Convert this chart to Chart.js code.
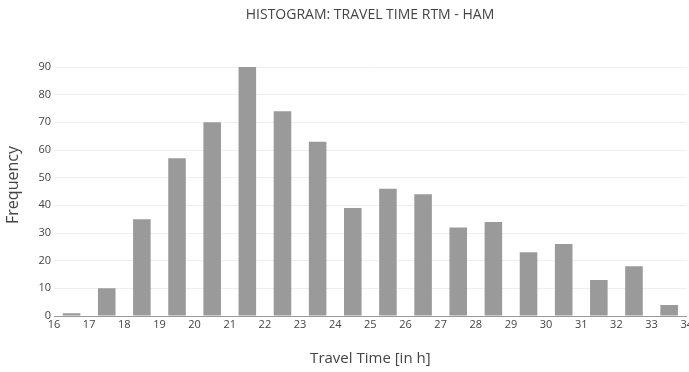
<!DOCTYPE html>
<html>
<head>
<meta charset="utf-8">
<script src="https://cdn.jsdelivr.net/npm/chart.js@4"></script>
<style>
  html, body { margin: 0; padding: 0; background: #fff; overflow: hidden; }
  #outer { position: relative; width: 689px; height: 372px; overflow: hidden; }
  #wrap { position: absolute; left: 0; top: 0; width: 695px; height: 372px; }
  #title { position: absolute; top: 4px; left: 0; width: 740px; text-align: center;
           font-family: "Open Sans", sans-serif; font-size: 14px; color: #444; }
</style>
</head>
<body>
<div id="outer">
  <div id="wrap"><canvas id="c"></canvas></div>
  <div id="title">HISTOGRAM: TRAVEL TIME RTM - HAM</div>
</div>
<script>
const binCenters = [16.5, 17.5, 18.5, 19.5, 20.5, 21.5, 22.5, 23.5, 24.5, 25.5, 26.5, 27.5, 28.5, 29.5, 30.5, 31.5, 32.5, 33.5];
const frequencies = [1, 10, 35, 57, 70, 90, 74, 63, 39, 46, 44, 32, 34, 23, 26, 13, 18, 4];
const xTickValues = [16, 17, 18, 19, 20, 21, 22, 23, 24, 25, 26, 27, 28, 29, 30, 31, 32, 33, 34];
const yTickValues = [0, 10, 20, 30, 40, 50, 60, 70, 80, 90];
const chartTitle = "HISTOGRAM: TRAVEL TIME RTM - HAM";
const xTitle = "Travel Time [in h]";
const yTitle = "Frequency";

const font = "'Open Sans', sans-serif";
new Chart(document.getElementById('c'), {
  type: 'bar',
  data: {
    datasets: [{
      data: binCenters.map((x, i) => ({ x: x, y: frequencies[i] })),
      backgroundColor: '#9a9a9a',
      borderWidth: 0,
      barPercentage: 0.5,
      categoryPercentage: 1.0
    }]
  },
  options: {
    responsive: true,
    maintainAspectRatio: false,
    animation: false,
    layout: { padding: { top: 54, left: 0, right: 0, bottom: 0 } },
    plugins: { legend: { display: false }, tooltip: { enabled: false }, title: { display: false } },
    scales: {
      x: {
        type: 'linear',
        min: 16, max: 34,
        offset: false,
        grid: { display: false, drawTicks: false },
        border: { color: '#999', width: 1 },
        afterBuildTicks: (s) => { s.ticks = xTickValues.map(v => ({ value: v })); },
        ticks: { color: '#444', font: { family: font, size: 11 }, padding: 2, maxRotation: 0, autoSkip: false },
        title: { display: true, text: xTitle, color: '#444', font: { family: font, size: 15 }, padding: { top: 14 } },
        afterFit: (s) => { s.height = 56; }
      },
      y: {
        min: 0, max: 94.7,
        grid: { color: '#eeeeee', drawTicks: false },
        border: { display: false },
        afterBuildTicks: (s) => { s.ticks = yTickValues.map(v => ({ value: v })); },
        ticks: { color: '#444', font: { family: font, size: 11 }, padding: 3 },
        title: { display: true, text: yTitle, color: '#444', font: { family: font, size: 16 }, padding: { bottom: 6 } },
        afterFit: (s) => { s.width = 54; }
      }
    }
  }
});
</script>
</body>
</html>
